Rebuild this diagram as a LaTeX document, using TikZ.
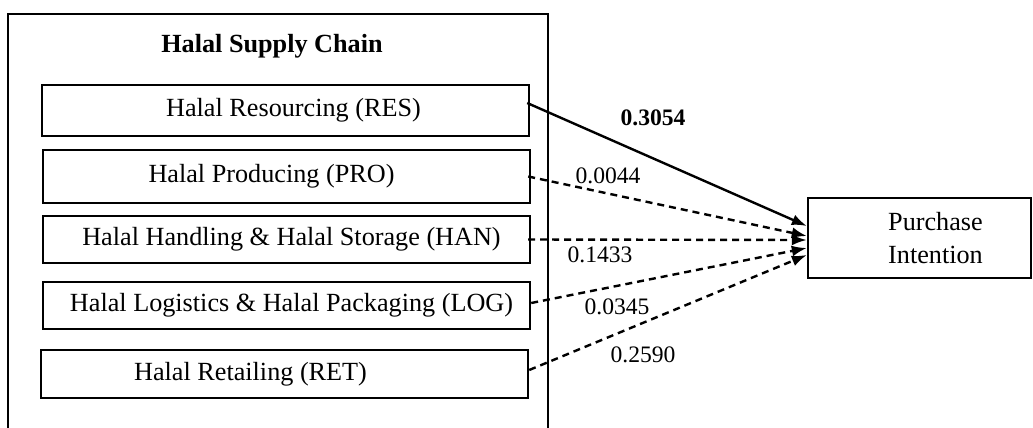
\documentclass[tikz,border=0pt]{standalone}
\usepackage{fontspec}
\setmainfont{Liberation Serif}
\usepackage{tikz}
\usetikzlibrary{arrows.meta}
\tikzstyle{box}=[draw,line width=1.2pt,minimum width=243.5pt,minimum height=24pt,inner sep=0pt]

\begin{document}
\begin{tikzpicture}[x=0.5pt,y=-0.5pt,line width=1.2pt,font=\fontsize{13.1}{16.5}\selectfont]
	\tikzstyle{effect}=[-{Latex[length=7.5pt,width=5.5pt]}]
	\tikzstyle{weakeffect}=[effect,dash pattern=on 3.5pt off 2.5pt]
	\tikzstyle{coef}=[font=\fontsize{11.8}{14}\selectfont]
	\useasboundingbox (0,0) rectangle (1033,428);
	% frame of the supply chain, open at the bottom
	\draw (8,428) |- (548,14) -- (548,428);
	\node [font=\fontsize{13.1}{16.5}\selectfont\bfseries] (chain) at (272,46) {Halal Supply Chain};
	\node [box,minimum height=25.5pt,label={[xshift=4pt]center:Halal Resourcing (RES)}] (res) at (285.5,110.5) {};
	\node [box,minimum height=26.5pt,label={[xshift=-7.5pt]center:Halal Producing (PRO)}] (pro) at (286.5,176.5) {};
	\node [box,minimum height=23.5pt,label={[xshift=2.5pt]center:Halal Handling \& Halal Storage (HAN)}] (han) at (286.5,239.5) {};
	\node [box,minimum height=23.5pt,label={[xshift=2.5pt]center:Halal Logistics \& Halal Packaging (LOG)}] (log) at (286.5,305.5) {};
	\node [box,label={[xshift=-17pt]center:Halal Retailing (RET)}] (ret) at (284.5,374) {};
	\node [box,minimum width=111.5pt,minimum height=40pt,label={[xshift=8pt,align=center]center:Purchase\\Intention}] (pi) at (919.5,238) {};
	% paths to purchase intention
	\draw [effect] ([xshift=-1.5pt,yshift=3.75pt]res.east) -- ([yshift=6pt]pi.west);
	\draw [weakeffect] ([xshift=-1.5pt]pro.east) -- ([yshift=1pt]pi.west);
	\draw [weakeffect] ([xshift=-1.5pt]han.east) -- ([yshift=-1pt]pi.west);
	\draw [weakeffect] ([yshift=1.25pt]log.east) -- ([yshift=-5pt]pi.west);
	\draw [weakeffect] ([yshift=2pt]ret.east) -- ([yshift=-8.5pt]pi.west);
	\node [coef,font=\fontsize{11.8}{14}\selectfont\bfseries] (wres) at (653,118) {0.3054};
	\node [coef] (wpro) at (608,176) {0.0044};
	\node [coef] (whan) at (600,255) {0.1433};
	\node [coef] (wlog) at (617,307) {0.0345};
	\node [coef] (wret) at (643,355) {0.2590};
\end{tikzpicture}
\end{document}
